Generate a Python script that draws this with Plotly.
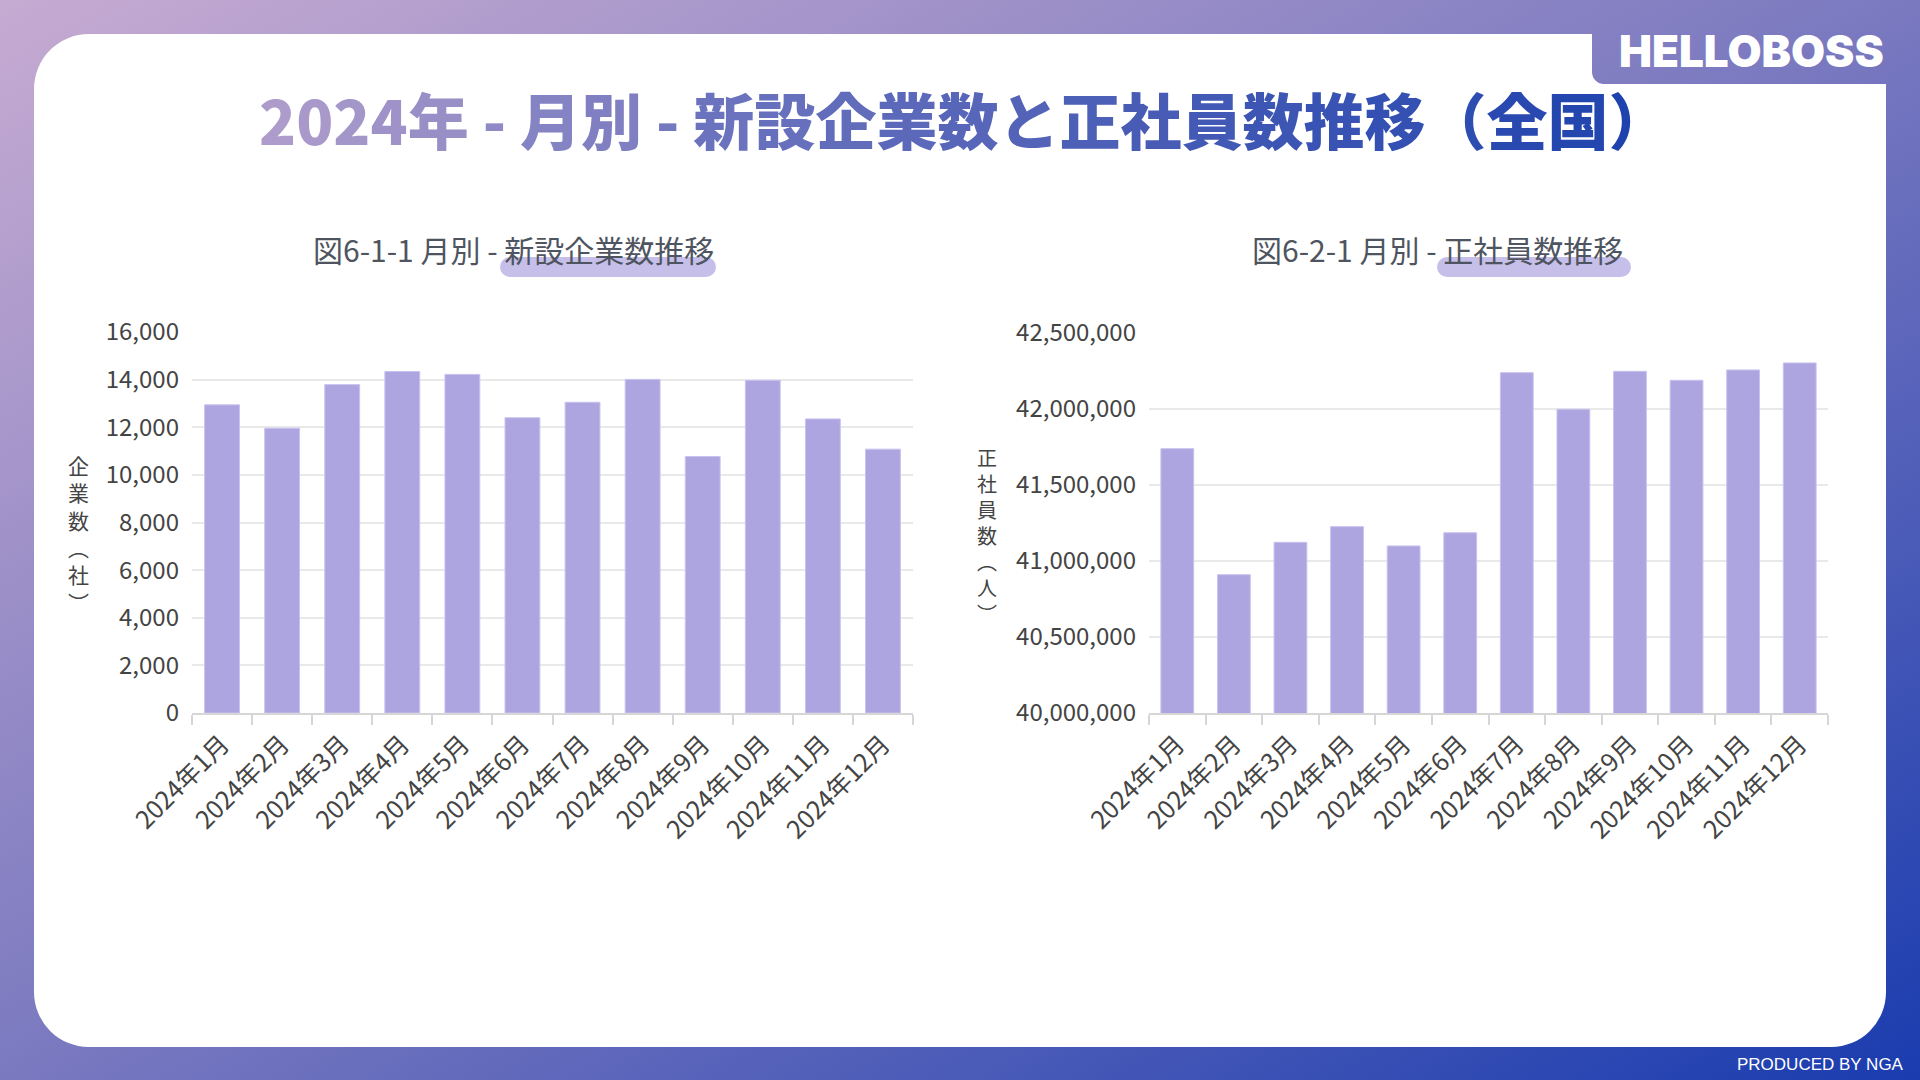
import base64
import plotly.graph_objects as go

# ---------------- data ----------------
months = ["2024年1月", "2024年2月", "2024年3月", "2024年4月", "2024年5月", "2024年6月",
          "2024年7月", "2024年8月", "2024年9月", "2024年10月", "2024年11月", "2024年12月"]
new_companies = [12940, 11960, 13790, 14340, 14220, 12400, 13050, 14010, 10770, 13970, 12350, 11080]
fulltime_employees = [41739000, 40910000, 41123000, 41226000, 41099000, 41186000,
                      42239000, 41998000, 42248000, 42189000, 42257000, 42303000]
left_ticks = [0, 2000, 4000, 6000, 8000, 10000, 12000, 14000, 16000]
right_ticks = [40000000, 40500000, 41000000, 41500000, 42000000, 42500000]

main_title = "2024年 - 月別 - 新設企業数と正社員数推移（全国）"
left_sub = "図6-1-1 月別 - 新設企業数推移"
right_sub = "図6-2-1 月別 - 正社員数推移"
left_ytitle = ["企", "業", "数", "︵", "社", "︶"]
right_ytitle = ["正", "社", "員", "数", "︵", "人", "︶"]

# ---------------- layout helpers ----------------
W, H = 1920, 1080
FONT = "Noto Sans CJK JP"
BAR = "#ada5df"
BAR_LINE = "#c9c2f0"
GRID = "#e9e9e9"
AXIS = "#d6d6d6"
TXT = "#444444"


def fx(x):
    return x / W


def fy(y):
    return 1 - y / H


# background (gradient, white card with logo notch, highlight pills)
card = ("M 89 34 L 1592 34 L 1592 72 A 12 12 0 0 0 1604 84 L 1886 84 "
        "L 1886 992 A 55 55 0 0 1 1831 1047 L 89 1047 A 55 55 0 0 1 34 992 "
        "L 34 89 A 55 55 0 0 1 89 34 Z")
svg = f'''<svg xmlns="http://www.w3.org/2000/svg" width="{W}" height="{H}" viewBox="0 0 {W} {H}" preserveAspectRatio="none">
<defs><linearGradient id="g" x1="0" y1="0" x2="1" y2="1">
<stop offset="0" stop-color="#c6abd2"/><stop offset="0.5" stop-color="#7a79c0"/><stop offset="1" stop-color="#1a3caf"/>
</linearGradient></defs>
<rect x="0" y="0" width="{W}" height="{H}" fill="url(#g)"/>
<path d="{card}" fill="#ffffff"/>
<rect x="500" y="257" width="216" height="20" rx="10" ry="10" fill="#c6bfea"/>
<rect x="1437" y="257" width="194" height="20" rx="10" ry="10" fill="#c6bfea"/>
</svg>'''
bg_src = "data:image/svg+xml;base64," + base64.b64encode(svg.encode("utf-8")).decode("ascii")


def gradient_text(s, c0=(173, 156, 203), c1=(31, 67, 174)):
    out = []
    n = len(s)
    for i, ch in enumerate(s):
        t = i / (n - 1)
        r, g, b = (round(c0[k] + (c1[k] - c0[k]) * t) for k in range(3))
        out.append(f'<span style="color:#{r:02x}{g:02x}{b:02x}">{ch}</span>')
    return "".join(out)


fig = go.Figure()
fig.add_trace(go.Bar(x=months, y=new_companies, xaxis="x", yaxis="y",
                     marker=dict(color=BAR, line=dict(color=BAR_LINE, width=1)),
                     hoverinfo="x+y", showlegend=False))
fig.add_trace(go.Bar(x=months, y=fulltime_employees, xaxis="x2", yaxis="y2",
                     marker=dict(color=BAR, line=dict(color=BAR_LINE, width=1)),
                     hoverinfo="x+y", showlegend=False))

xcommon = dict(type="category", tickson="boundaries", ticks="outside", ticklen=10,
               tickcolor=AXIS, tickwidth=1.5, showline=True, linecolor=AXIS, linewidth=1.5,
               tickangle=-45, showgrid=False, automargin=False, ticklabelstandoff=5,
               tickfont=dict(family=FONT, size=25, color=TXT))
ycommon = dict(showgrid=True, gridcolor=GRID, gridwidth=1.5, zeroline=False, ticks="",
               showline=False, tickformat=",d", ticklabelstandoff=12, automargin=False,
               tickfont=dict(family=FONT, size=24, color=TXT))

annotations = [
    dict(text=gradient_text(main_title), x=fx(964), y=fy(119), xref="paper", yref="paper",
         xanchor="center", yanchor="middle", showarrow=False,
         font=dict(family=FONT, size=61, weight=900)),
    dict(text=left_sub, x=fx(513), y=fy(249), xref="paper", yref="paper",
         xanchor="center", yanchor="middle", showarrow=False,
         font=dict(family=FONT, size=30, color="#4f5560")),
    dict(text=right_sub, x=fx(1437), y=fy(249), xref="paper", yref="paper",
         xanchor="center", yanchor="middle", showarrow=False,
         font=dict(family=FONT, size=30, color="#4f5560")),
    dict(text="HELLOBOSS", x=fx(1751), y=fy(51), xref="paper", yref="paper",
         xanchor="center", yanchor="middle", showarrow=False,
         font=dict(family="Inter", size=44, weight=900, color="#ffffff")),
    dict(text="PRODUCED BY NGA", x=fx(1906), y=fy(1064), xref="paper", yref="paper",
         xanchor="right", yanchor="middle", showarrow=False,
         font=dict(family="Liberation Sans", size=17, color="#ffffff")),
    dict(text="<br>".join(left_ytitle), x=fx(78), y=fy(533), xref="paper", yref="paper",
         xanchor="center", yanchor="middle", showarrow=False,
         font=dict(family=FONT, size=21, color=TXT)),
    dict(text="<br>".join(right_ytitle), x=fx(987), y=fy(536), xref="paper", yref="paper",
         xanchor="center", yanchor="middle", showarrow=False,
         font=dict(family=FONT, size=20, color=TXT)),
]

fig.update_layout(
    width=W, height=H, margin=dict(l=0, r=0, t=0, b=0, pad=0), autosize=False,
    paper_bgcolor="#ffffff", plot_bgcolor="rgba(0,0,0,0)",
    bargap=0.42, showlegend=False,
    xaxis=dict(domain=[fx(192), fx(913)], anchor="y", **xcommon),
    yaxis=dict(domain=[fy(713), fy(332)], anchor="x", range=[0, 16000],
               tickvals=left_ticks, **ycommon),
    xaxis2=dict(domain=[fx(1149), fx(1828)], anchor="y2", **xcommon),
    yaxis2=dict(domain=[fy(713), fy(333)], anchor="x2", range=[40000000, 42500000],
                tickvals=right_ticks, **ycommon),
    images=[dict(source=bg_src, xref="paper", yref="paper", x=0, y=1, sizex=1, sizey=1,
                 sizing="stretch", xanchor="left", yanchor="top", layer="below")],
    annotations=annotations,
)

fig.write_html("out.html", config={"displayModeBar": False},
               post_script="document.body.style.margin='0';document.body.style.overflow='hidden';")
